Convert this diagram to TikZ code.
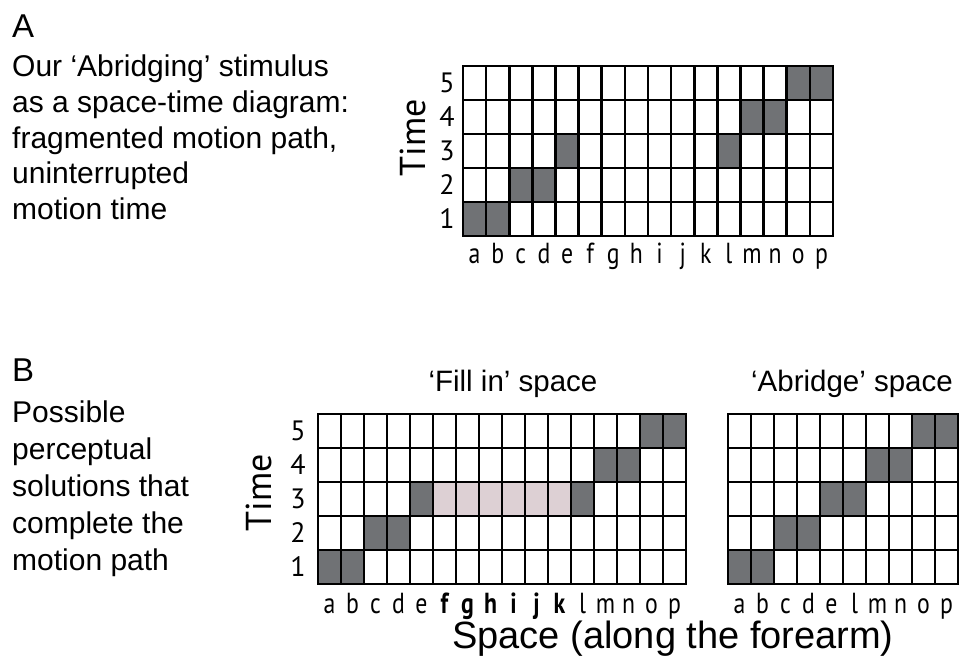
\documentclass[tikz,border=0pt]{standalone}
\usepackage{fontspec}
\usepackage{graphicx}
\setmainfont{Liberation Sans}
\newfontfamily\lblfont{PT Sans}
\definecolor{cellgray}{RGB}{112,114,117}
\definecolor{fillpink}{RGB}{221,208,212}
\newcommand\narrowlbl[1]{\scalebox{0.82}[1]{#1}}
\begin{document}
\begin{tikzpicture}[x=1pt,y=-1pt,
  body/.style={anchor=base west, inner sep=0pt, font=\fontsize{30}{36}\selectfont},
  panel/.style={anchor=base west, inner sep=0pt, font=\fontsize{33}{36}\selectfont},
  title/.style={anchor=base, inner sep=0pt, font=\fontsize{29.5}{34}\selectfont},
  rowlbl/.style={anchor=center, inner sep=0pt, font=\lblfont\fontsize{28}{30}\selectfont},
  collbl/.style={anchor=base, inner sep=0pt, font=\lblfont\fontsize{29}{30}\selectfont},
  axlbl/.style={anchor=center, inner sep=0pt, rotate=90, font=\lblfont\fontsize{36}{38}\selectfont},
  gl/.style={line width=2.6pt, black, line cap=rect},
  dark/.style={fill=cellgray},
  pinkc/.style={fill=fillpink}]
\useasboundingbox (0,0) rectangle (962,661);

% ---------------- Panel A text
\node[panel] (labA) at (12,38) {A};
\node[body] (a1) at (12,77) {Our ‘Abridging’ stimulus};
\node[body] (a2) at (12,112.5) {as a space-time diagram:};
\node[body] (a3) at (12,148) {fragmented motion path,};
\node[body] (a4) at (12,183.5) {uninterrupted};
\node[body] (a5) at (12,219) {motion time};

% ---------------- Grid A
\def\AX{463}\def\AY{66}\def\AW{23.125}\def\RH{34}
\foreach \c/\r in {1/1,2/1,3/2,4/2,5/3,12/3,13/4,14/4,15/5,16/5}
  \fill[dark] ({\AX+(\c-1)*\AW},{\AY+(5-\r)*\RH}) rectangle ++(\AW,\RH);
\foreach \i in {0,...,16} \draw[gl] ({\AX+\i*\AW},\AY) -- ++(0,170);
\foreach \j in {0,...,5} \draw[gl] (\AX,{\AY+\j*\RH}) -- ++(370,0);
\foreach \r in {1,...,5}
  \node[rowlbl] (A-r\r) at (447,{\AY+(5-\r)*\RH+\RH/2}) {\r};
\foreach \l [count=\c] in {a,b,c,d,e,f,g,h,i,j,k,l,m,n,o,p}
  \node[collbl] (A-c\c) at ({\AX+(\c-0.5)*\AW},263) {\narrowlbl{\l}};
\node[axlbl] (A-time) at (413,138) {Time};

% ---------------- Panel B text
\node[panel] (labB) at (12,381) {B};
\node[body] (b1) at (12,422) {Possible};
\node[body] (b2) at (12,459) {perceptual};
\node[body] (b3) at (12,496) {solutions that};
\node[body] (b4) at (12,533) {complete the};
\node[body] (b5) at (12,570) {motion path};

% ---------------- Grid B1 (Fill in)
\def\BX{318}\def\BY{414}\def\BW{23}
\node[title] (t1) at (513,391) {‘Fill in’ space};
\foreach \c in {6,...,11}
  \fill[pinkc] ({\BX+(\c-1)*\BW},{\BY+2*\RH}) rectangle ++(\BW,\RH);
\foreach \c/\r in {1/1,2/1,3/2,4/2,5/3,12/3,13/4,14/4,15/5,16/5}
  \fill[dark] ({\BX+(\c-1)*\BW},{\BY+(5-\r)*\RH}) rectangle ++(\BW,\RH);
\foreach \i in {0,...,16} \draw[gl] ({\BX+\i*\BW},\BY) -- ++(0,170);
\foreach \j in {0,...,5} \draw[gl] (\BX,{\BY+\j*\RH}) -- ++(368,0);
\foreach \r in {1,...,5}
  \node[rowlbl] (B-r\r) at (298,{\BY+(5-\r)*\RH+\RH/2}) {\r};
\foreach \l [count=\c] in {a,b,c,d,e}
  \node[collbl] (B-c\c) at ({\BX+(\c-0.5)*\BW},613) {\narrowlbl{\l}};
\foreach \l [count=\c from 6] in {f,g,h,i,j,k}
  \node[collbl] (B-c\c) at ({\BX+(\c-0.5)*\BW},613) {\narrowlbl{\bfseries\l}};
\foreach \l [count=\c from 12] in {l,m,n,o,p}
  \node[collbl] (B-c\c) at ({\BX+(\c-0.5)*\BW},613) {\narrowlbl{\l}};
\node[axlbl] (B-time) at (259,493) {Time};

% ---------------- Grid B2 (Abridge)
\def\CX{728}
\node[title] (t2) at (852,391) {‘Abridge’ space};
\foreach \c/\r in {1/1,2/1,3/2,4/2,5/3,6/3,7/4,8/4,9/5,10/5}
  \fill[dark] ({\CX+(\c-1)*\BW},{\BY+(5-\r)*\RH}) rectangle ++(\BW,\RH);
\foreach \i in {0,...,10} \draw[gl] ({\CX+\i*\BW},\BY) -- ++(0,170);
\foreach \j in {0,...,5} \draw[gl] (\CX,{\BY+\j*\RH}) -- ++(230,0);
\foreach \l [count=\c] in {a,b,c,d,e,l,m,n,o,p}
  \node[collbl] (C-c\c) at ({\CX+(\c-0.5)*\BW},613) {\narrowlbl{\l}};

% ---------------- Axis title
\node[title, font=\fontsize{38}{42}\selectfont] (space) at (673,648) {Space (along the forearm)};
\end{tikzpicture}
\end{document}
